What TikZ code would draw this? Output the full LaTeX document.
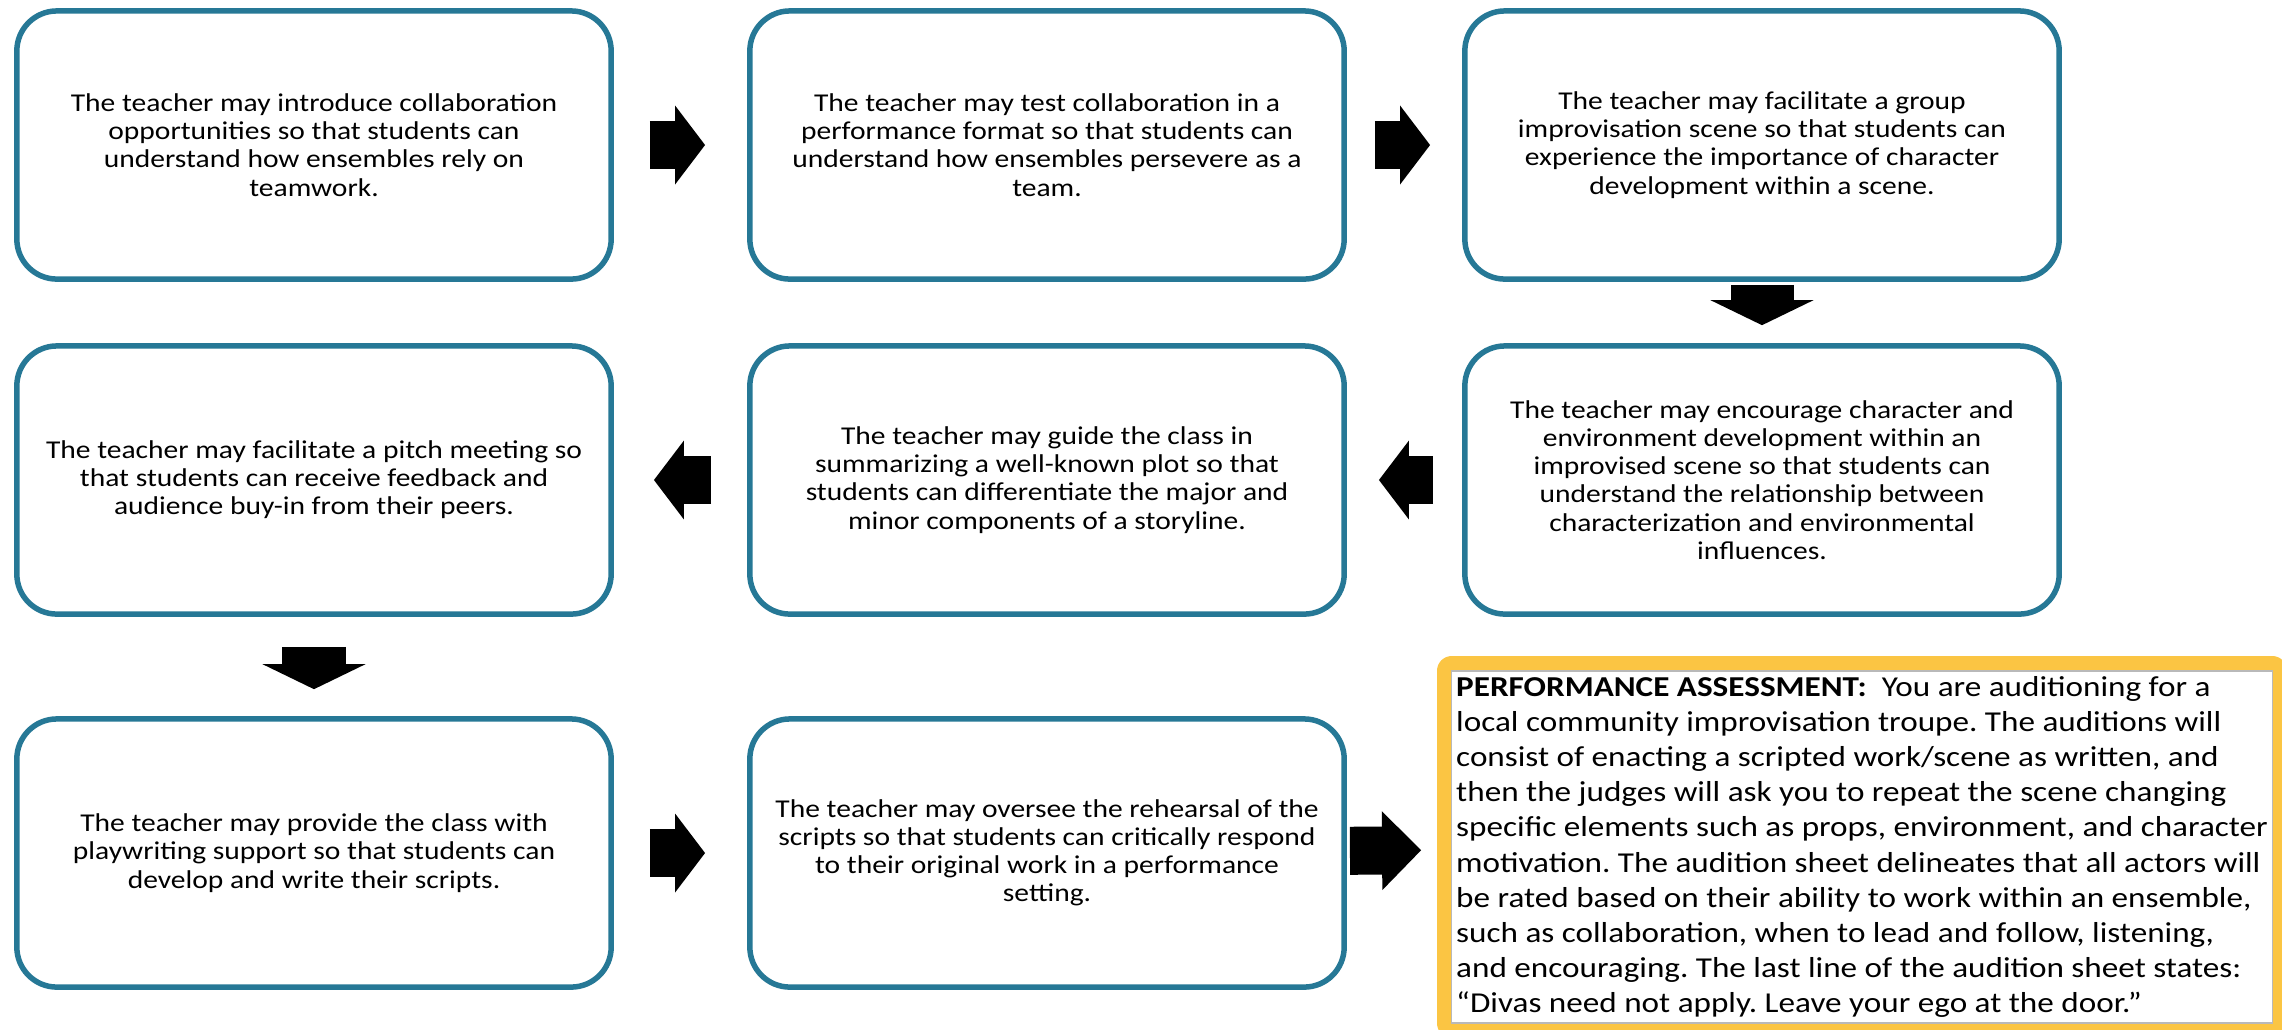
\documentclass[tikz,border=0pt]{standalone}
\usepackage{fontspec}
\setmainfont{Carlito}[FakeStretch=1.15]
\usetikzlibrary{arrows.meta}
\frenchspacing

\definecolor{bordeazul}{RGB}{38,120,150}
\definecolor{marcoamarillo}{RGB}{251,197,67}

\begin{document}
\begin{tikzpicture}[x=0.01cm,y=-0.01cm,
    stepbox/.style={draw=bordeazul, line width=0.055cm, rounded corners=0.4cm, fill=white,
      minimum width=5.94cm, minimum height=2.68cm, inner sep=0pt, align=center,
      font=\fontsize{7.3}{8}\selectfont},
    assessbox/.style={fill=white, draw=gray!55, line width=0.4pt,
      preaction={draw=marcoamarillo, line width=0.30cm, line join=round},
      minimum width=8.2cm, minimum height=3.52cm, inner sep=0pt, align=left,
      font=\fontsize{8.2}{10}\selectfont},
    blockarrow/.style={line width=0.48cm, -{Triangle[width=0.79cm,length=0.30cm,line width=0pt]}},
    downarrow/.style={line width=0.63cm, -{Triangle[width=1.03cm,length=0.25cm,line width=0pt]}}]

  % Marco del dibujo
  \clip (0,0) rectangle (2282,1029);
  \fill[white] (0,0) rectangle (2282,1029);

  % Primera fila
  \node[stepbox] (b1) at (314,145) {The teacher may introduce collaboration\\ opportunities so that students can\\ understand how ensembles rely on\\ teamwork.};
  \node[stepbox] (b2) at (1047,145) {The teacher may test collaboration in a\\ performance format so that students can\\ understand how ensembles persevere as a\\ team.};
  \node[stepbox] (b3) at (1762,145) {The teacher may facilitate a group\\ improvisation scene so that students can\\ experience the importance of character\\ development within a scene.};

  % Segunda fila
  \node[stepbox] (b4) at (314,480) {The teacher may facilitate a pitch meeting so\\ that students can receive feedback and\\ audience buy-in from their peers.};
  \node[stepbox] (b5) at (1047,480) {The teacher may guide the class in\\ summarizing a well-known plot so that\\ students can differentiate the major and\\ minor components of a storyline.};
  \node[stepbox] (b6) at (1762,480) {The teacher may encourage character and\\ environment development within an\\ improvised scene so that students can\\ understand the relationship between\\ characterization and environmental\\ influences.};

  % Tercera fila
  \node[stepbox] (b7) at (314,853) {The teacher may provide the class with\\ playwriting support so that students can\\ develop and write their scripts.};
  \node[stepbox] (b8) at (1047,853) {The teacher may oversee the rehearsal of the\\ scripts so that students can critically respond\\ to their original work in a performance\\ setting.};

  % Recuadro de evaluacion
  \node[assessbox] (assess) at (1862,847) {\textbf{PERFORMANCE ASSESSMENT:}\ \ You are auditioning for a\\
    local community improvisation troupe. The auditions will\\
    consist of enacting a scripted work/scene as written, and\\
    then the judges will ask you to repeat the scene changing\\
    specific elements such as props, environment, and character\\
    motivation. The audition sheet delineates that all actors will\\
    be rated based on their ability to work within an ensemble,\\
    such as collaboration, when to lead and follow, listening,\\
    and encouraging. The last line of the audition sheet states:\\
    “Divas need not apply. Leave your ego at the door.”};

  % Flechas
  \draw[blockarrow, shorten <=0.36cm, shorten >=0.42cm] (b1) -- (b2); % fila 1
  \draw[blockarrow, shorten <=0.28cm, shorten >=0.32cm] (b2) -- (b3);
  \draw[downarrow, shorten <=0.03cm, shorten >=0.18cm] (b3) -- (b6); % bajada derecha
  \draw[blockarrow, shorten <=0.29cm, shorten >=0.32cm] (b6) -- (b5); % fila 2
  \draw[blockarrow, shorten <=0.36cm, shorten >=0.40cm] (b5) -- (b4);
  \draw[downarrow, shorten <=0.30cm, shorten >=0.27cm] (b4) -- (b7); % bajada izquierda
  \draw[blockarrow, shorten <=0.36cm, shorten >=0.42cm] (b7) -- (b8); % fila 3
  \draw[blockarrow, -{Triangle[width=0.79cm,length=0.39cm,line width=0pt]},
    shorten <=0.03cm, shorten >=0.30cm] (b8) -- (assess);
\end{tikzpicture}
\end{document}
